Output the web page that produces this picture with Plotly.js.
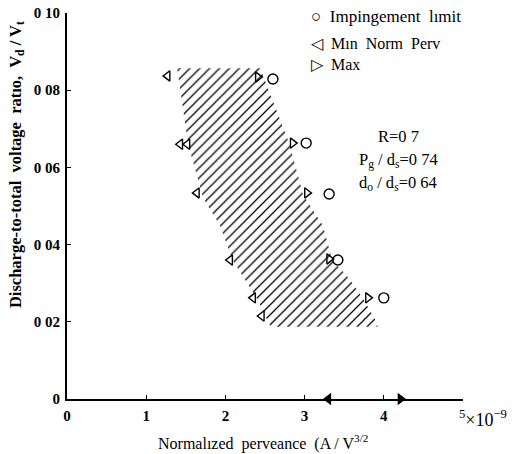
<!DOCTYPE html>
<html>
<head>
<meta charset="utf-8">
<script src="https://cdn.plot.ly/plotly-3.0.1.min.js"></script>
<style>html,body{margin:0;padding:0;background:#fff;}#chart{width:516px;height:454px;}</style>
</head>
<body>
<div id="chart"></div>
<script>
// Min normalized perveance (left triangles)
const minX = [1.27, 1.43, 1.52, 1.64, 2.06, 2.35, 2.46];
const minY = [0.0837, 0.066, 0.066, 0.0534, 0.036, 0.0262, 0.0215];
// Max normalized perveance (right triangles)
const maxX = [2.41, 2.85, 3.03, 3.31, 3.80];
const maxY = [0.0834, 0.0663, 0.0534, 0.0363, 0.0262];
// Impingement limit (circles)
const impX = [2.60, 3.02, 3.31, 3.42, 4.00];
const impY = [0.0829, 0.0663, 0.0531, 0.036, 0.0262];
// Hatched operating region outline
const regionX = [1.39, 1.53, 1.72, 1.93, 2.09, 2.40, 2.57, 3.92, 3.92, 3.74, 3.57, 3.35, 3.23, 2.98, 2.81, 2.44, 1.39];
const regionY = [0.0857, 0.066, 0.052, 0.045, 0.036, 0.026, 0.0187, 0.0187, 0.0195, 0.026, 0.031, 0.036, 0.045, 0.053, 0.066, 0.0857, 0.0857];
// Arrows on the x axis
const arrowLeftX = [3.30];
const arrowRightX = [4.21];
// Tick labels
const yTickVals = [0, 0.02, 0.04, 0.06, 0.08, 0.10];
const yTickText = ["0", "0 02", "0 04", "0 06", "0 08", "0 10"];
const xTickVals = [0, 1, 2, 3, 4, 5];
const xTickText = ["0", "1", "2", "3", "4", ""];

const serif = "Liberation Serif";
const mk = (sym, size) => ({symbol: sym, size: size, color: "#000", line: {color: "#000", width: 1.4}});

const traces = [
  {x: regionX, y: regionY, mode: "lines", fill: "toself", line: {width: 0, color: "rgba(0,0,0,0)"},
   fillcolor: "rgba(255,255,255,0)",
   fillpattern: {shape: "/", size: 7, solidity: 0.18, fgcolor: "#000", bgcolor: "rgba(255,255,255,0)"},
   hoverinfo: "skip", showlegend: false},
  {x: minX, y: minY, mode: "markers", marker: mk("triangle-left-open", 9), name: "Min Norm Perv", showlegend: false},
  {x: maxX, y: maxY, mode: "markers", marker: mk("triangle-right-open", 9), name: "Max", showlegend: false},
  {x: impX, y: impY, mode: "markers", marker: mk("circle-open", 10), name: "Impingement limit", showlegend: false},
  {x: arrowLeftX, y: [0], mode: "markers", marker: {symbol: "triangle-left", size: 11, color: "#000"}, cliponaxis: false, showlegend: false, hoverinfo: "skip"},
  {x: arrowRightX, y: [0], mode: "markers", marker: {symbol: "triangle-right", size: 11, color: "#000"}, cliponaxis: false, showlegend: false, hoverinfo: "skip"}
];

const ann = (text, x, y, size, opts) => Object.assign({text: text, x: x, y: y, xref: "x", yref: "y", showarrow: false,
  font: {family: serif, size: size, color: "#000"}}, opts || {});

const layout = {
  width: 516, height: 454,
  margin: {l: 67, r: 53, t: 13, b: 55},
  paper_bgcolor: "#fff", plot_bgcolor: "#fff",
  showlegend: false,
  font: {family: serif, color: "#000"},
  xaxis: {range: [0, 5], showgrid: false, zeroline: false, showline: true, linecolor: "#000", linewidth: 1.6,
    ticks: "inside", ticklen: 4, tickwidth: 1.3, tickcolor: "#000",
    tickvals: xTickVals, ticktext: xTickText, tickfont: {family: serif, size: 15, color: "#000", weight: "bold"},
    ticklabelstandoff: 2,
    title: {text: ""}},
  yaxis: {range: [0, 0.1], showgrid: false, zeroline: false, showline: true, linecolor: "#000", linewidth: 2,
    ticks: "inside", ticklen: 4, tickwidth: 1.3, tickcolor: "#000",
    tickvals: yTickVals, ticktext: yTickText, tickfont: {family: serif, size: 15, color: "#000", weight: "bold"},
    ticklabelstandoff: 2,
    title: {text: ""}},
  annotations: [
    {text: "Normalızed  perveance  (A / V<sup>3/2</sup>", xref: "paper", yref: "paper", x: 0.495, y: 0, yshift: -31,
     xanchor: "center", yanchor: "top", showarrow: false, font: {family: serif, size: 16, color: "#000"}},
    {text: "Discharge-to-total  voltage  ratıo,  V<sub>d</sub> / V<sub>t</sub>", xref: "paper", yref: "paper",
     x: 0, xshift: -51, y: 0.606, textangle: -90, xanchor: "center", yanchor: "middle", showarrow: false,
     font: {family: serif, size: 16.5, color: "#000", weight: "bold"}},
    {text: "<sup>5</sup>×10<sup>−9</sup>", xref: "x", yref: "paper", x: 5, xshift: -6, y: 0, yshift: -6,
     xanchor: "left", yanchor: "top", showarrow: false, font: {family: serif, size: 18, color: "#000"}},
    ann("○  Impingement  lımit", 3.05, 0.099, 17, {xanchor: "left"}),
    ann("◁  Mın  Norm  Perv<br>▷  Max", 3.05, 0.0894, 16, {xanchor: "left", align: "left"}),
    ann("R=0 7", 4.18, 0.0679, 16.5),
    ann("P<sub>g</sub> / d<sub>s</sub>=0 74", 4.18, 0.0619, 16.5),
    ann("d<sub>o</sub> / d<sub>s</sub>=0 64", 4.18, 0.056, 16.5)
  ]
};

Plotly.newPlot("chart", traces, layout, {staticPlot: true, displayModeBar: false});
</script>
</body>
</html>
